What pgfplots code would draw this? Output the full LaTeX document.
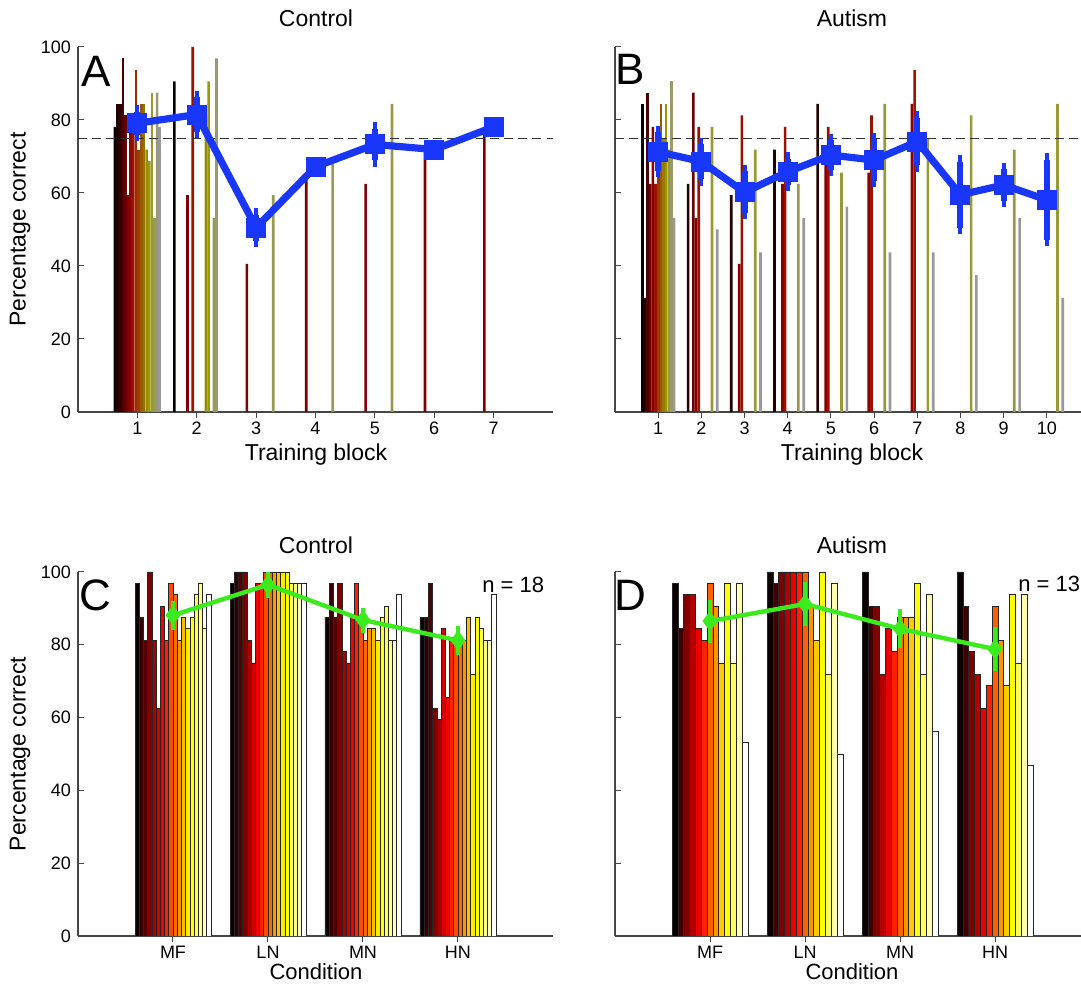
\documentclass[border=0pt]{standalone}
\usepackage{fontspec}
\setmainfont{Liberation Sans}
\usepackage{pgfplots}
\pgfplotsset{compat=1.18}
% hot colormap, 18 subjects (control)
\definecolor{ca1}{rgb}{0.042,0,0}
\definecolor{ca2}{rgb}{0.208,0,0}
\definecolor{ca3}{rgb}{0.333,0,0}
\definecolor{ca4}{rgb}{0.5,0,0}
\definecolor{ca5}{rgb}{0.667,0,0}
\definecolor{ca6}{rgb}{0.833,0,0}
\definecolor{ca7}{rgb}{0.958,0,0}
\definecolor{ca8}{rgb}{1,0.125,0}
\definecolor{ca9}{rgb}{1,0.292,0}
\definecolor{ca10}{rgb}{1,0.417,0}
\definecolor{ca11}{rgb}{1,0.583,0}
\definecolor{ca12}{rgb}{1,0.75,0}
\definecolor{ca13}{rgb}{1,0.917,0}
\definecolor{ca14}{rgb}{1,1,0.0625}
\definecolor{ca15}{rgb}{1,1,0.3125}
\definecolor{ca16}{rgb}{1,1,0.5625}
\definecolor{ca17}{rgb}{1,1,0.75}
\definecolor{ca18}{rgb}{1,1,1}
% hot colormap, 13 subjects (autism)
\definecolor{cb1}{rgb}{0.042,0,0}
\definecolor{cb2}{rgb}{0.25,0,0}
\definecolor{cb3}{rgb}{0.5,0,0}
\definecolor{cb4}{rgb}{0.708,0,0}
\definecolor{cb5}{rgb}{0.917,0,0}
\definecolor{cb6}{rgb}{1,0.125,0}
\definecolor{cb7}{rgb}{1,0.375,0}
\definecolor{cb8}{rgb}{1,0.583,0}
\definecolor{cb9}{rgb}{1,0.792,0}
\definecolor{cb10}{rgb}{1,1,0}
\definecolor{cb11}{rgb}{1,1,0.375}
\definecolor{cb12}{rgb}{1,1,0.6875}
\definecolor{cb13}{rgb}{1,1,1}
\definecolor{bluec}{RGB}{25,55,250}
\definecolor{greenc}{RGB}{60,235,30}
\definecolor{axc}{RGB}{70,70,70}

\pgfplotsset{
  base/.style={scale only axis, width=237.5pt,
    axis x line*=bottom, axis y line*=left,
    every outer x axis line/.append style={-},
    every outer y axis line/.append style={-},
    axis line style={-, axc, line width=0.6pt},
    ymin=0, ymax=100, ytick={0,20,...,100},
    tick align=inside, major tick length=3pt,
    tick style={axc, line width=0.5pt},
    grid=major, major grid style={dotted, gray!55, line width=0.6pt},
    tick label style={font=\fontsize{9}{10}\selectfont},
    /pgf/number format/assume math mode=true,
    xticklabel style={yshift=1.5pt}},
  over/.style={scale only axis, width=237.5pt, hide axis, ymin=0, ymax=100},
  thin/.style={draw=none},
  blueline/.style={bluec, line width=3.6pt, mark=square*, mark size=3.2pt, mark options={solid}},
  blueerr/.style={draw=none, mark=none, forget plot,
    error bars/.cd, y dir=both, y explicit,
    error bar style={draw=bluec, line width=3pt, solid},
    error mark options={draw=bluec, line width=2pt, mark size=3.2pt}},
  greenline/.style={greenc, line width=2.2pt, mark=diamond*, mark size=3.2pt, mark options={solid},
    error bars/.cd, y dir=both, y explicit,
    error bar style={draw=greenc, line width=1.6pt, solid},
    error mark options={draw=greenc, line width=1.6pt, mark size=2.6pt}},
}
\newcommand{\lab}{\fontsize{11.5}{13}\selectfont}

\begin{document}
\begin{tikzpicture}
\useasboundingbox (0,0) rectangle (540.5pt,494pt);
\clip (0,0) rectangle (540.5pt,494pt);

% ---------------- Panel A ----------------
\begin{axis}[base, at={(39pt,288pt)}, anchor=south west, height=182.5pt,
  xmin=0, xmax=8, xtick={1,...,7},
  ybar=0pt, bar width=1.3194pt,
  every axis plot/.append style={draw=none}]
\addplot[fill=ca1!60!black] coordinates {(1,78.1) (2,90.6)};
\addplot[fill=ca2!60!black] coordinates {(1,84.4)};
\addplot[fill=ca3!60!black] coordinates {(1,84.4)};
\addplot[fill=ca4!60!black] coordinates {(1,96.9)};
\addplot[fill=ca5!60!black] coordinates {(1,81.25)};
\addplot[fill=ca6!60!black] coordinates {(1,59.4) (2,59.4) (3,40.6) (4,65.6) (5,62.5) (6,71.9) (7,78.1)};
\addplot[fill=ca7!60!black] coordinates {(1,81.25)};
\addplot[fill=ca8!60!black] coordinates {(1,81.25) (2,100)};
\addplot[fill=ca9!60!black] coordinates {(1,93.75)};
\addplot[fill=ca10!60!black] coordinates {(1,71.9)};
\addplot[fill=ca11!60!black] coordinates {(1,84.4)};
\addplot[fill=ca12!60!black] coordinates {(1,84.4)};
\addplot[fill=ca13!60!black] coordinates {(1,71.9) (2,81.25)};
\addplot[fill=ca14!60!black] coordinates {(1,68.75) (2,90.6)};
\addplot[fill=ca15!60!black] coordinates {(1,87.5)};
\addplot[fill=ca16!60!black] coordinates {(1,53.1) (2,53.1) (3,59.4) (4,68.75) (5,84.4)};
\addplot[fill=ca17!60!black] coordinates {(1,87.5) (2,96.9)};
\addplot[fill=ca18!60!black] coordinates {(1,78.1)};
\end{axis}
\begin{axis}[over, at={(39pt,288pt)}, anchor=south west, height=182.5pt, xmin=0, xmax=8]
\addplot[black!80, line width=0.7pt, dash pattern=on 4.5pt off 2.6pt] coordinates {(0,75) (8,75)};
\addplot[blueline] coordinates {(1,79.1) (2,81.5) (3,50.5) (4,67.2) (5,73.3) (6,71.9) (7,78.1)};
\addplot[blueerr] coordinates {(1,79.1) +- (0,3.2) (2,81.5) +- (0,4.8) (3,50.5) +- (0,3.6) (5,73.3) +- (0,4.3)};
\end{axis}

% ---------------- Panel B ----------------
\begin{axis}[base, at={(307.5pt,288pt)}, anchor=south west, height=182.5pt,
  xmin=0, xmax=11, xtick={1,...,10}, yticklabels={},
  ybar=0pt, bar width=1.3287pt,
  every axis plot/.append style={draw=none}]
\addplot[fill=cb1!60!black] coordinates {(1,84.4)};
\addplot[fill=cb2!60!black] coordinates {(1,31.25) (2,62.5) (3,59.4) (4,71.9) (5,84.4)};
\addplot[fill=cb3!60!black] coordinates {(1,87.5)};
\addplot[fill=cb4!60!black] coordinates {(1,62.5) (2,87.5)};
\addplot[fill=cb5!60!black] coordinates {(1,78.1) (2,53.1) (3,40.6) (4,62.5) (5,68.75) (6,65.6) (7,84.4)};
\addplot[fill=cb6!60!black] coordinates {(1,62.5) (2,78.1) (3,81.25) (4,78.1) (5,78.1) (6,81.25) (7,93.75)};
\addplot[fill=cb7!60!black] coordinates {(1,71.9)};
\addplot[fill=cb8!60!black] coordinates {(1,84.4)};
\addplot[fill=cb9!60!black] coordinates {(1,75)};
\addplot[fill=cb10!60!black] coordinates {(1,84.4)};
\addplot[fill=cb11!60!black] coordinates {(1,71.9) (2,78.1) (3,71.9) (4,62.5) (5,65.6) (6,84.4) (7,75) (8,81.25) (9,71.9) (10,84.4)};
\addplot[fill=cb12!60!black] coordinates {(1,90.6)};
\addplot[fill=cb13!60!black] coordinates {(1,53.1) (2,50) (3,43.75) (4,53.1) (5,56.25) (6,43.75) (7,43.75) (8,37.5) (9,53.1) (10,31.25)};
\end{axis}
\begin{axis}[over, at={(307.5pt,288pt)}, anchor=south west, height=182.5pt, xmin=0, xmax=11]
\addplot[black!80, line width=0.7pt, dash pattern=on 4.5pt off 2.6pt] coordinates {(0,75) (11,75)};
\addplot[blueline] coordinates {(1,71.3) (2,68.6) (3,60.2) (4,65.8) (5,70.4) (6,69) (7,74.1) (8,59.5) (9,62.2) (10,58.1)};
\addplot[blueerr] coordinates {(1,71.3) +- (0,5.3) (2,68.6) +- (0,4.8) (3,60.2) +- (0,5.7) (4,65.8) +- (0,3.6) (5,70.4) +- (0,4.1) (6,69) +- (0,5.7) (7,74.1) +- (0,6.5) (8,59.5) +- (0,9.1) (9,62.2) +- (0,4.3) (10,58.1) +- (0,11)};
\end{axis}

% ---------------- Panel C ----------------
\begin{axis}[base, at={(39pt,26pt)}, anchor=south west, height=182pt,
  xmin=0, xmax=5, xtick={1,2,3,4}, xticklabels={MF,LN,MN,HN},
  ybar=0pt, bar width=2.111pt,
  every axis plot/.append style={draw=black!85, line width=0.3pt}]
\addplot[fill=ca1] coordinates {(1,96.9) (2,96.9) (3,87.5) (4,87.5)};
\addplot[fill=ca2] coordinates {(1,87.5) (2,100) (3,96.9) (4,87.5)};
\addplot[fill=ca3] coordinates {(1,81.25) (2,100) (3,87.5) (4,96.9)};
\addplot[fill=ca4] coordinates {(1,100) (2,100) (3,96.9) (4,62.5)};
\addplot[fill=ca5] coordinates {(1,81.25) (2,81.25) (3,78.1) (4,59.4)};
\addplot[fill=ca6] coordinates {(1,62.5) (2,75) (3,75) (4,84.4)};
\addplot[fill=ca7] coordinates {(1,90.6) (2,96.9) (3,87.5) (4,65.6)};
\addplot[fill=ca8] coordinates {(1,81.25) (2,96.9) (3,96.9) (4,81.25)};
\addplot[fill=ca9] coordinates {(1,96.9) (2,100) (3,87.5) (4,81.25)};
\addplot[fill=ca10] coordinates {(1,93.75) (2,100) (3,81.25) (4,81.25)};
\addplot[fill=ca11] coordinates {(1,81.25) (2,100) (3,84.4) (4,81.25)};
\addplot[fill=ca12] coordinates {(1,87.5) (2,100) (3,84.4) (4,87.5)};
\addplot[fill=ca13] coordinates {(1,84.4) (2,100) (3,81.25) (4,71.9)};
\addplot[fill=ca14] coordinates {(1,87.5) (2,100) (3,87.5) (4,87.5)};
\addplot[fill=ca15] coordinates {(1,93.75) (2,96.9) (3,90.6) (4,84.4)};
\addplot[fill=ca16] coordinates {(1,96.9) (2,96.9) (3,81.25) (4,81.25)};
\addplot[fill=ca17] coordinates {(1,84.4) (2,96.9) (3,81.25) (4,81.25)};
\addplot[fill=ca18] coordinates {(1,93.75) (2,96.9) (3,93.75) (4,93.75)};
\end{axis}
\begin{axis}[over, at={(39pt,26pt)}, anchor=south west, height=182pt, xmin=0, xmax=5]
\addplot[greenline] coordinates {(1,88.1) +- (0,2.5) (2,96.5) +- (0,2.2) (3,86.8) +- (0,2) (4,81.2) +- (0,2.5)};
\end{axis}

% ---------------- Panel D ----------------
\begin{axis}[base, at={(307.5pt,26pt)}, anchor=south west, height=182pt,
  xmin=0, xmax=5, xtick={1,2,3,4}, xticklabels={MF,LN,MN,HN}, yticklabels={},
  ybar=0pt, bar width=2.923pt,
  every axis plot/.append style={draw=black!85, line width=0.3pt}]
\addplot[fill=cb1] coordinates {(1,96.9) (2,100) (3,100) (4,100)};
\addplot[fill=cb2] coordinates {(1,84.4) (2,96.9) (3,90.6) (4,90.6)};
\addplot[fill=cb3] coordinates {(1,93.75) (2,100) (3,90.6) (4,78.1)};
\addplot[fill=cb4] coordinates {(1,93.75) (2,100) (3,71.9) (4,71.9)};
\addplot[fill=cb5] coordinates {(1,84.4) (2,100) (3,84.4) (4,62.5)};
\addplot[fill=cb6] coordinates {(1,81.25) (2,100) (3,78.1) (4,68.75)};
\addplot[fill=cb7] coordinates {(1,96.9) (2,100) (3,87.5) (4,90.6)};
\addplot[fill=cb8] coordinates {(1,90.6) (2,90.6) (3,87.5) (4,81.25)};
\addplot[fill=cb9] coordinates {(1,75) (2,81.25) (3,87.5) (4,68.75)};
\addplot[fill=cb10] coordinates {(1,96.9) (2,100) (3,96.9) (4,93.75)};
\addplot[fill=cb11] coordinates {(1,75) (2,71.9) (3,71.9) (4,75)};
\addplot[fill=cb12] coordinates {(1,96.9) (2,96.9) (3,93.75) (4,93.75)};
\addplot[fill=cb13] coordinates {(1,53.1) (2,50) (3,56.25) (4,46.9)};
\end{axis}
\begin{axis}[over, at={(307.5pt,26pt)}, anchor=south west, height=182pt, xmin=0, xmax=5]
\addplot[greenline] coordinates {(1,86.5) +- (0,4.5) (2,91.2) +- (0,4.7) (3,84.4) +- (0,3.9) (4,78.8) +- (0,4.6)};
\end{axis}

% ---------------- Texts ----------------
\node[font=\lab] at (158pt,485pt) {Control};
\node[font=\lab] at (426pt,485pt) {Autism};
\node[font=\lab] at (158pt,221.5pt) {Control};
\node[font=\lab] at (426pt,221.5pt) {Autism};
\node[font=\lab, inner sep=1pt] at (158pt,266.5pt) {Training block};
\node[font=\lab, inner sep=1pt] at (426pt,266.5pt) {Training block};
\node[font=\fontsize{11}{12}\selectfont, inner sep=1pt] at (158pt,8pt) {Condition};
\node[font=\fontsize{11}{12}\selectfont, inner sep=1pt] at (426pt,8pt) {Condition};
\node[font=\lab, rotate=90] at (10pt,379.25pt) {Percentage correct};
\node[font=\lab, rotate=90] at (10pt,117pt) {Percentage correct};
\node[font=\fontsize{22}{24}\selectfont] at (48pt,458.5pt) {A};
\node[font=\fontsize{22}{24}\selectfont] at (315pt,459.5pt) {B};
\node[font=\fontsize{22}{24}\selectfont] at (47.5pt,196.5pt) {C};
\node[font=\fontsize{22}{24}\selectfont] at (315pt,196.5pt) {D};
\node[font=\fontsize{11}{13}\selectfont, anchor=west, inner sep=0pt] at (241pt,201.5pt) {n = 18};
\node[font=\fontsize{11}{13}\selectfont, anchor=west, inner sep=0pt] at (509pt,202pt) {n = 13};
\end{tikzpicture}
\end{document}
